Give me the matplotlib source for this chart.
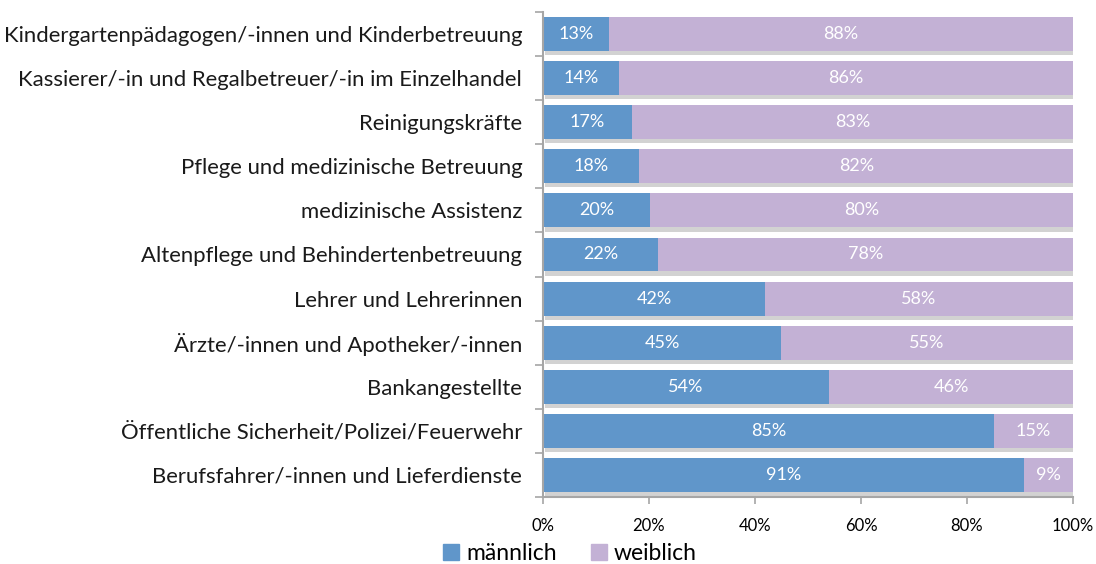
#!/usr/bin/env python

import matplotlib
matplotlib.use('Agg')
import matplotlib.pyplot as plt
import matplotlib.patheffects as pe
import matplotlib.ticker as plticker
from matplotlib.patches import Patch

CATEGORIES = [
    'Kindergartenpädagogen/-innen und Kinderbetreuung',
    'Kassierer/-in und Regalbetreuer/-in im Einzelhandel',
    'Reinigungskräfte',
    'Pflege und medizinische Betreuung',
    'medizinische Assistenz',
    'Altenpflege und Behindertenbetreuung',
    'Lehrer und Lehrerinnen',
    'Ärzte/-innen und Apotheker/-innen',
    'Bankangestellte',
    'Öffentliche Sicherheit/Polizei/Feuerwehr',
    'Berufsfahrer/-innen und Lieferdienste',
]
MALE   = [12.5, 14.4, 16.8, 18.2, 20.2, 21.7, 41.9, 44.9, 54.0, 85.1, 90.8]
FEMALE = [87.5, 85.6, 83.2, 81.8, 79.8, 78.3, 58.1, 55.1, 46.0, 14.9, 9.2]
SERIES = ['männlich', 'weiblich']

BLUE      = '#6096CA'
LAVENDER  = '#C3B1D5'
AXIS_GRAY = '#A6A6A6'
FONT      = 'Lato'
BAR_H     = 0.77


def pct(v):
    return '{}%'.format(int(v + 0.5))


fig = plt.figure(figsize=(10.96, 5.64), dpi=100)
ax = fig.add_axes([0.4954, 0.1188, 0.4836, 0.8600])

pos = list(range(len(CATEGORIES)))
shadow = [pe.SimplePatchShadow(offset=(1.5, -3), shadow_rgbFace='#808080', alpha=0.35),
          pe.Normal()]

ax.barh(pos, MALE, height=BAR_H, color=BLUE, label=SERIES[0], path_effects=shadow)
ax.barh(pos, FEMALE, left=MALE, height=BAR_H, color=LAVENDER, label=SERIES[1],
        path_effects=shadow)

for y, m, f in zip(pos, MALE, FEMALE):
    ax.text(m / 2, y, pct(m), ha='center', va='center', color='white',
            fontsize=13, family=FONT)
    ax.text(m + f / 2, y, pct(f), ha='center', va='center', color='white',
            fontsize=13, family=FONT)

ax.set_xlim(0, 100)
ax.set_ylim(len(CATEGORIES) - 0.5, -0.5)

ax.set_yticks(pos)
ax.set_yticklabels(CATEGORIES, family=FONT, fontsize=15.9, color='#1a1a1a')
ax.yaxis.set_minor_locator(plticker.FixedLocator([p - 0.5 for p in pos] + [len(pos) - 0.5]))
ax.tick_params(axis='y', which='major', length=0, pad=15)
ax.tick_params(axis='y', which='minor', length=6, width=1.2, color=AXIS_GRAY)

ax.xaxis.set_major_locator(plticker.MultipleLocator(20))
ax.xaxis.set_major_formatter(plticker.FuncFormatter(lambda v, p: '{:.0f}%'.format(v)))
ax.tick_params(axis='x', length=5, width=1.2, color=AXIS_GRAY, labelsize=12, pad=10)
for lbl in ax.get_xticklabels():
    lbl.set_family(FONT)

for side in ('top', 'right'):
    ax.spines[side].set_visible(False)
for side in ('left', 'bottom'):
    ax.spines[side].set_color(AXIS_GRAY)
    ax.spines[side].set_linewidth(1.5)

handles = [Patch(color=BLUE, label=SERIES[0]), Patch(color=LAVENDER, label=SERIES[1])]
fig.legend(handles=handles, loc='center', bbox_to_anchor=(0.52, 0.018),
           ncol=2, frameon=False, prop={'family': FONT, 'size': 16.5},
           handlelength=0.7, handleheight=0.7, handletextpad=0.3, columnspacing=1.5)

fig.savefig('out.png', dpi=100)
plt.close(fig)
